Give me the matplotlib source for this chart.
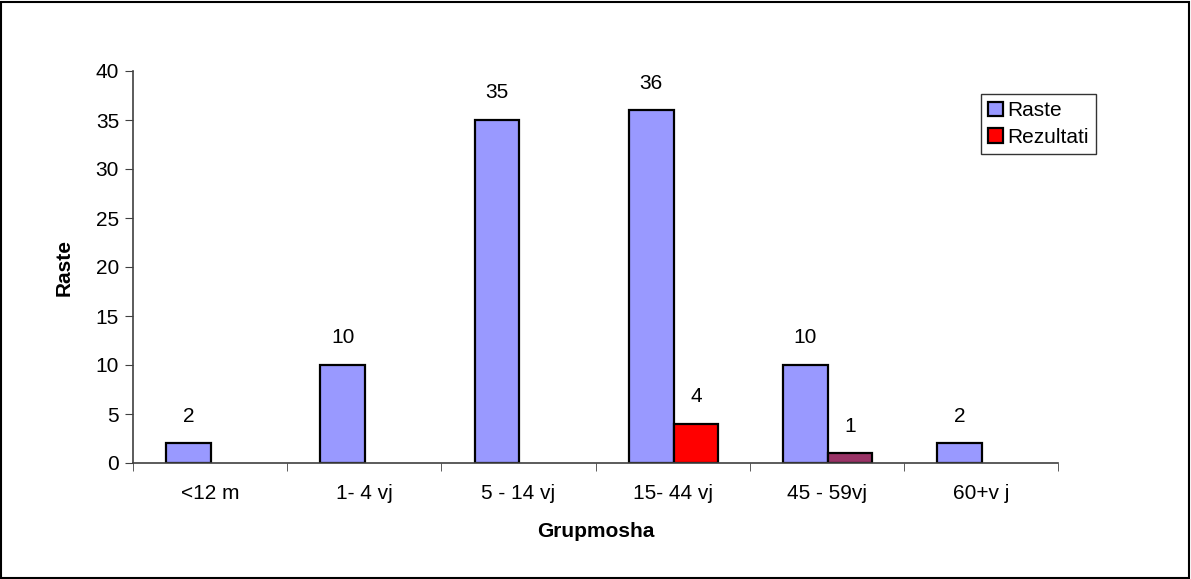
import numpy as np
import matplotlib.pyplot as plt
from matplotlib.patches import Rectangle

plt.rcParams['font.family'] = ['Liberation Sans', 'DejaVu Sans']

grupmosha = ["<12 m", "1- 4 vj", "5 - 14 vj", "15- 44 vj", "45 - 59vj", "60+v j"]
raste = [2, 10, 35, 36, 10, 2]
rezultati = [0, 0, 0, 4, 1, 0]
rez_ngjyra = ["#FF0000", "#FF0000", "#FF0000", "#FF0000", "#993366", "#FF0000"]

fs = 15

fig = plt.figure(figsize=(11.91, 5.79), dpi=100)
ax = fig.add_axes([133 / 1191, 1 - 463 / 579, (1058 - 133) / 1191, (463 - 71) / 579])

x = np.arange(len(grupmosha))
w = 0.29
# bare me vlere 0 nuk vizatohen me kornize
lw1 = [1.6 if v else 0 for v in raste]
lw2 = [1.6 if v else 0 for v in rezultati]
b1 = ax.bar(x - w / 2 + 0.006, raste, w, color="#9999FF", edgecolor="black", linewidth=lw1, label="Raste")
b2 = ax.bar(x + w / 2 + 0.006, rezultati, w, color=rez_ngjyra, edgecolor="black", linewidth=lw2, label="Rezultati")

for r, v in zip(b1, raste):
    ax.text(r.get_x() + r.get_width() / 2, v + 1.8, str(v), ha="center", va="bottom", fontsize=fs)
for r, v in zip(b2, rezultati):
    if v > 0:
        ax.text(r.get_x() + r.get_width() / 2, v + 1.8, str(v), ha="center", va="bottom", fontsize=fs)

ax.set_xlim(-0.5, len(grupmosha) - 0.5)
ax.set_ylim(0, 40)
ax.set_yticks(range(0, 41, 5))
ax.set_xticks(x)
ax.set_xticklabels(grupmosha, fontsize=fs)
ax.set_xticks(np.arange(-0.5, len(grupmosha)), minor=True)
ax.tick_params(axis="x", which="major", length=0, pad=15)
ax.tick_params(axis="x", which="minor", length=6, direction="out", color="#404040")
ax.tick_params(axis="y", length=6, direction="out", color="#404040", labelsize=fs, pad=4)
for s in ["top", "right"]:
    ax.spines[s].set_visible(False)
for s in ["left", "bottom"]:
    ax.spines[s].set_color("#404040")
    ax.spines[s].set_linewidth(1.2)
    ax.spines[s].set_zorder(3)

ax.set_ylabel("Raste", fontsize=fs, fontweight="bold", labelpad=16)
ax.set_xlabel("Grupmosha", fontsize=fs, fontweight="bold", labelpad=14)

h = [Rectangle((0, 0), 1, 1, facecolor="#9999FF", edgecolor="black", lw=1.6),
     Rectangle((0, 0), 1, 1, facecolor="#FF0000", edgecolor="black", lw=1.6)]
leg = fig.legend(h, ["Raste", "Rezultati"], loc="upper left",
                 bbox_to_anchor=(981 / 1191, 1 - 94 / 579), fontsize=fs,
                 frameon=True, fancybox=False, edgecolor="black",
                 handlelength=0.7, handleheight=0.7, handletextpad=0.2,
                 borderpad=0.35, labelspacing=0.35, borderaxespad=0)
leg.get_frame().set_linewidth(1.0)

fig.patches.append(Rectangle((0.001, 0.002), 0.997, 0.995, transform=fig.transFigure,
                             fill=False, edgecolor="black", lw=1.5))

fig.savefig("out.png", dpi=100)
